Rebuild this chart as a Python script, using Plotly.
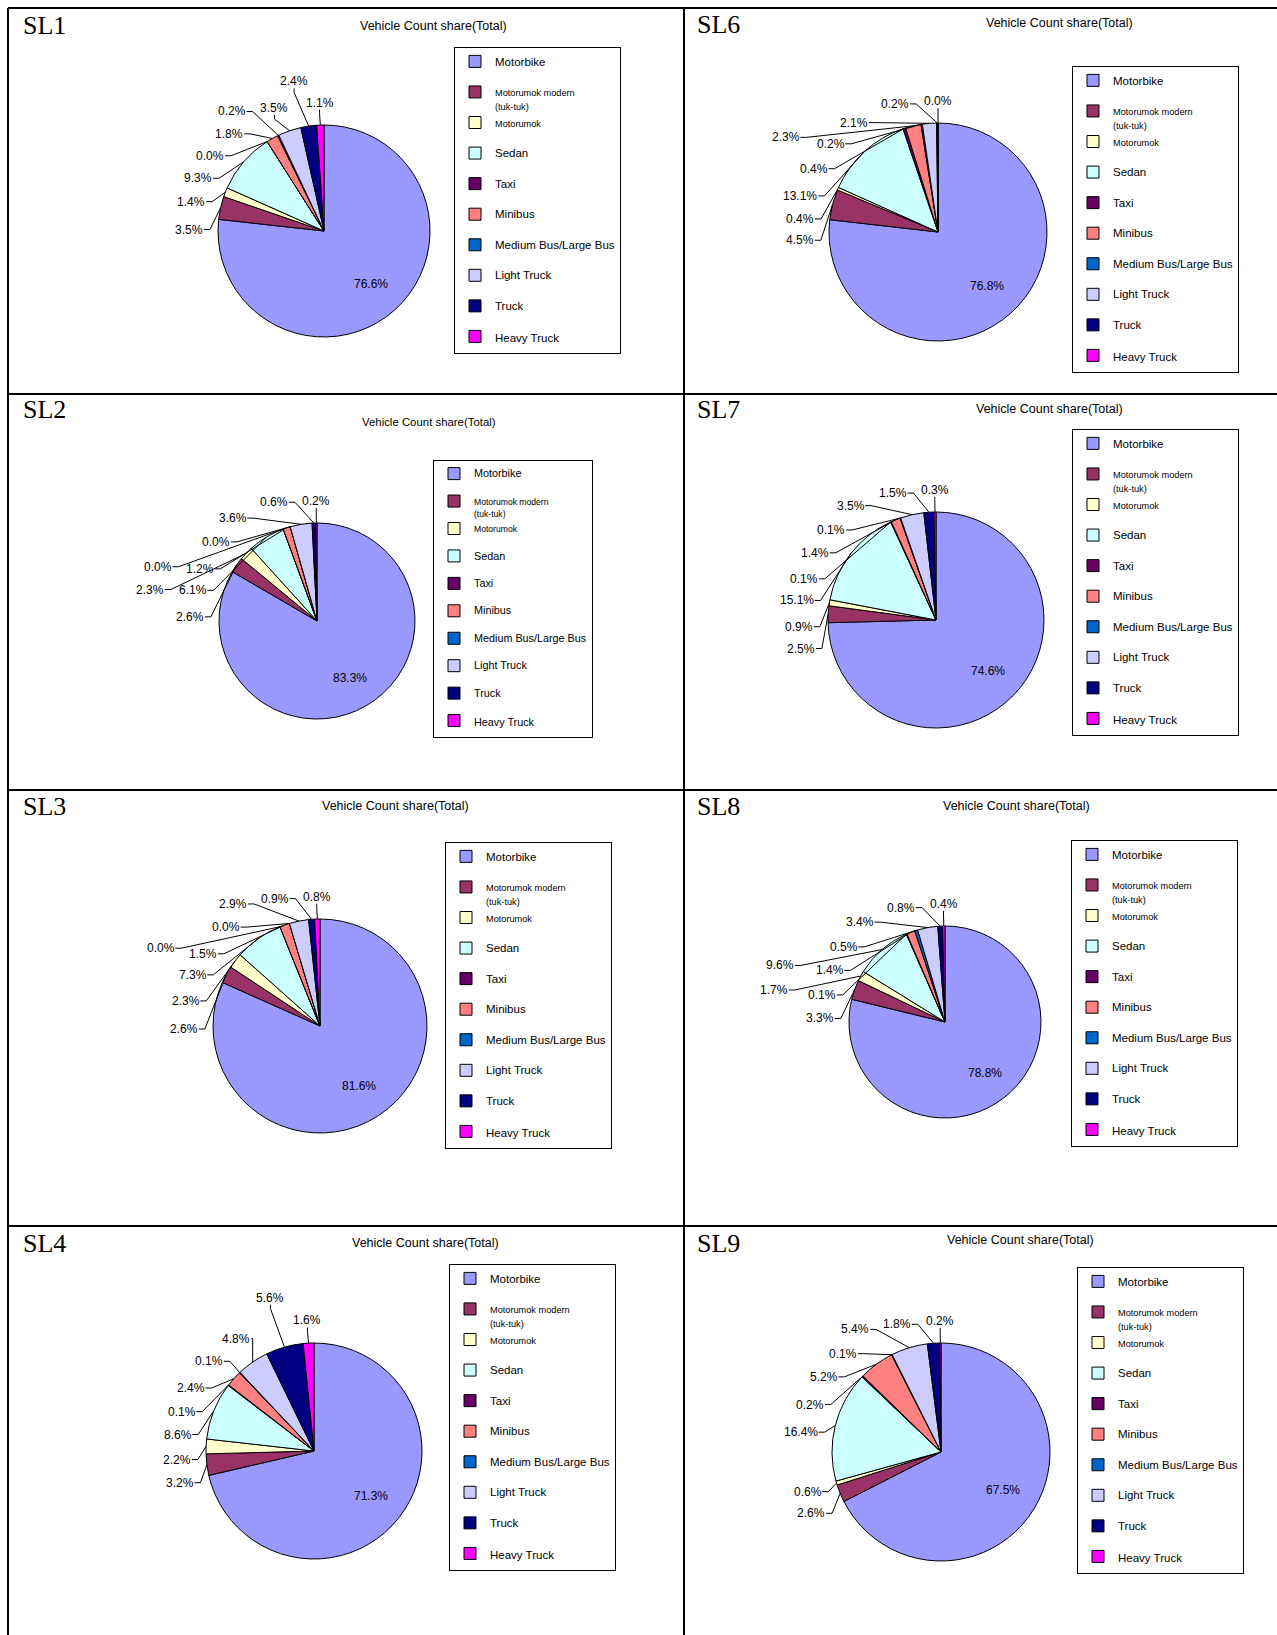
import math
import plotly.graph_objects as go

W, H = 1277, 1635

# ---------------- data ----------------
categories = ["Motorbike", "Motorumok modern (tuk-tuk)", "Motorumok", "Sedan", "Taxi",
              "Minibus", "Medium Bus/Large Bus", "Light Truck", "Truck", "Heavy Truck"]
colors = ["#9999FF", "#993366", "#FFFFCC", "#CCFFFF", "#660066",
          "#FF8080", "#0066CC", "#CCCCFF", "#000080", "#FF00FF"]
small_legend_items = ["Motorumok modern (tuk-tuk)", "Motorumok"]

panel_names = ["SL1", "SL2", "SL3", "SL4", "SL6", "SL7", "SL8", "SL9"]
sl1 = [76.6, 3.5, 1.4, 9.3, 0.0, 1.8, 0.2, 3.5, 2.4, 1.1]
sl2 = [83.3, 2.6, 2.3, 6.1, 0.0, 1.2, 0.0, 3.6, 0.6, 0.2]
sl3 = [81.6, 2.6, 2.3, 7.3, 0.0, 1.5, 0.0, 2.9, 0.9, 0.8]
sl4 = [71.3, 3.2, 2.2, 8.6, 0.1, 2.4, 0.1, 4.8, 5.6, 1.6]
sl6 = [76.8, 4.5, 0.4, 13.1, 0.4, 2.3, 0.2, 2.1, 0.2, 0.0]
sl7 = [74.6, 2.5, 0.9, 15.1, 0.1, 1.4, 0.1, 3.5, 1.5, 0.3]
sl8 = [78.8, 3.3, 1.7, 9.6, 0.1, 1.4, 0.5, 3.4, 0.8, 0.4]
sl9 = [67.5, 2.6, 0.6, 16.4, 0.2, 5.2, 0.1, 5.4, 1.8, 0.2]
panel_values = [sl1, sl2, sl3, sl4, sl6, sl7, sl8, sl9]
chart_title = "Vehicle Count share(Total)"

# ---------------- layout geometry (pixels) ----------------
geom = {
    "SL1": dict(cx=324, cy=231, r=106, lx=454, ly=47,   tx=433,  ty=26,   sx=21,  sy=26,   lbase=10.6, ltext=11.5, tsize=12.5, left=8),
    "SL2": dict(cx=317, cy=621, r=98,  lx=433, ly=460,  tx=429,  ty=422,  sx=21,  sy=410,  lbase=9.4, ltext=10.8, tsize=11.4, left=8),
    "SL3": dict(cx=320, cy=1026, r=107, lx=445, ly=842, tx=395,  ty=806,  sx=21,  sy=806,  lbase=10.6, ltext=11.5, tsize=12.5, left=8),
    "SL4": dict(cx=314, cy=1451, r=108, lx=449, ly=1264, tx=425, ty=1243, sx=21,  sy=1243, lbase=10.6, ltext=11.5, tsize=12.5, left=8),
    "SL6": dict(cx=938, cy=232, r=109, lx=1072, ly=66,  tx=1059, ty=23,   sx=695, sy=25,   lbase=10.6, ltext=11.5, tsize=12.5, left=684),
    "SL7": dict(cx=936, cy=620, r=108, lx=1072, ly=429, tx=1049, ty=409,  sx=695, sy=410,  lbase=10.6, ltext=11.5, tsize=12.5, left=684),
    "SL8": dict(cx=945, cy=1022, r=96, lx=1071, ly=840, tx=1017, ty=806,  sx=695, sy=806,  lbase=10.6, ltext=11.5, tsize=12.5, left=684),
    "SL9": dict(cx=941, cy=1452, r=109, lx=1077, ly=1267, tx=1021, ty=1240, sx=695, sy=1243, lbase=10.6, ltext=11.5, tsize=12.5, left=684),
}
LABEL_FS = 12
FONT = "Liberation Sans"

# label search weights
W_OUT, W_CCW, W_CW = 0.35, 2.0, 2.5
MAX_EXTRA = 100


def px(x):
    return x / W


def py(y):
    return 1 - y / H


def text_width(s, size):
    wmap = {".": 0.278, "%": 0.889}
    return sum(wmap.get(ch, 0.556) for ch in s) * size


def overlap(a, b):
    return not (a[2] <= b[0] or b[2] <= a[0] or a[3] <= b[1] or b[3] <= a[1])


def seg_hits_box(x0, y0, x1, y1, b):
    ddx, ddy = x1 - x0, y1 - y0
    u0, u1 = 0.0, 1.0
    for p, q in ((-ddx, x0 - b[0]), (ddx, b[2] - x0), (-ddy, y0 - b[1]), (ddy, b[3] - y0)):
        if p == 0:
            if q < 0:
                return False
        else:
            t = q / p
            if p < 0:
                u0 = max(u0, t)
            else:
                u1 = min(u1, t)
            if u0 > u1:
                return False
    return True


def segs_cross(a, b):
    (x1, y1, x2, y2), (x3, y3, x4, y4) = a, b

    def orient(ax, ay, bx, by, cx_, cy_):
        return (bx - ax) * (cy_ - ay) - (by - ay) * (cx_ - ax)
    d1 = orient(x3, y3, x4, y4, x1, y1)
    d2 = orient(x3, y3, x4, y4, x2, y2)
    d3 = orient(x1, y1, x2, y2, x3, y3)
    d4 = orient(x1, y1, x2, y2, x4, y4)
    return (d1 * d2 < 0) and (d3 * d4 < 0)


def legend_label(cat, size, last):
    tail = "" if last else "<br> "
    if cat in small_legend_items:
        sm = round(size * 0.8, 1)
        parts = cat.split(" (")
        if len(parts) == 2:
            return (f"<span style='font-size:{sm}px'>{parts[0]}</span><br>"
                    f"<span style='font-size:{sm}px'>({parts[1]}</span>")
        return f"<span style='font-size:{sm}px'>{cat}</span>{tail}"
    return f"<span style='font-size:{size}px'>{cat}</span>{tail}"


def leader_points(lx, ly, w, h, ex, ey):
    if lx + w / 2 + 2 < ex:
        p0 = (lx + w / 2 + 1, ly)
        p1 = (min(lx + w / 2 + 7, ex), ly)
    elif lx - w / 2 - 2 > ex:
        p0 = (lx - w / 2 - 1, ly)
        p1 = (max(lx - w / 2 - 7, ex), ly)
    elif ly < ey:
        p0 = (lx, ly + h / 2)
        p1 = (lx, min(ly + h / 2 + 4, ey))
    else:
        p0 = (lx, ly - h / 2)
        p1 = (lx, max(ly - h / 2 - 4, ey))
    return p0, p1


def candidate(cx, cy, r, th, t2, d_extra, w, h):
    ex, ey = cx + r * math.sin(th), cy - r * math.cos(th)
    ddx, ddy = math.sin(t2), -math.cos(t2)
    d = r + 15 + abs(ddx) * w / 2 + abs(ddy) * h / 2 + d_extra
    lx, ly = cx + d * ddx, cy + d * ddy
    bw, bh = w + 14, 21
    box = (lx - bw / 2, ly - bh / 2, lx + bw / 2, ly + bh / 2)
    tbox = (lx - w / 2 - 1, ly - h / 2, lx + w / 2 + 1, ly + h / 2)
    p0, p1 = leader_points(lx, ly, w, h, ex, ey)
    segs = [(p0[0], p0[1], p1[0], p1[1]), (p1[0], p1[1], ex, ey)]
    return lx, ly, box, tbox, segs


def place_label(cx, cy, r, th, w, h, placed, prev_angle, bounds, strict):
    """Search outward / rotated positions; labels are placed from the last slice
    backwards, so earlier labels are pushed counter-clockwise (Excel-like)."""
    xmin, ymin, xmax = bounds
    best = None
    for shift in range(-54, 31, 3):
        t2 = th + math.radians(shift)
        if prev_angle is not None and t2 > prev_angle - math.radians(3):
            continue
        for extra in range(0, MAX_EXTRA, 2):
            lx, ly, box, tbox, segs = candidate(cx, cy, r, th, t2, extra, w, h)
            if ly - h / 2 < ymin or lx + w / 2 > xmax or lx - w / 2 < xmin:
                break
            ok = True
            for pb, ptb, psegs in placed:
                if overlap(box, pb):
                    ok = False
                    break
                if strict:
                    if any(seg_hits_box(*s, ptb) for s in segs):
                        ok = False
                        break
                    if any(seg_hits_box(*s, tbox) for s in psegs):
                        ok = False
                        break
                    if any(segs_cross(s, q) for s in segs for q in psegs):
                        ok = False
                        break
            if ok:
                cost = W_OUT * extra + (W_CCW * -shift if shift < 0 else W_CW * shift)
                if best is None or cost < best[0]:
                    best = (cost, lx, ly, box, tbox, segs, t2)
                break
    return best


fig = go.Figure()
shapes = []
annotations = []

for k, name in enumerate(panel_names):
    g = geom[name]
    vals = panel_values[k]
    cx, cy, r = g["cx"], g["cy"], g["r"]
    legend_id = "legend" if k == 0 else f"legend{k + 1}"

    fig.add_trace(go.Pie(
        labels=[legend_label(c, g["ltext"], j == len(categories) - 1)
                for j, c in enumerate(categories)],
        values=vals,
        sort=False,
        direction="clockwise",
        rotation=0,
        domain=dict(x=[px(cx - r), px(cx + r)], y=[py(cy + r), py(cy - r)]),
        marker=dict(colors=colors, line=dict(color="black", width=1)),
        textinfo="none",
        hovertemplate=name + ": %{value:.1f}%<extra></extra>",
        legend=legend_id,
        legendgroup=name,
        showlegend=True,
    ))

    fig.update_layout({legend_id: dict(
        x=px(g["lx"]), y=py(g["ly"]), xanchor="left", yanchor="top",
        bgcolor="white", bordercolor="black", borderwidth=1,
        font=dict(family=FONT, size=g["lbase"], color="black"),
        valign="top", tracegroupgap=0, itemclick=False, itemdoubleclick=False,
    )})

    annotations.append(dict(x=px(g["tx"]), y=py(g["ty"]), xref="paper", yref="paper",
                            text=chart_title, showarrow=False, xanchor="center", yanchor="middle",
                            font=dict(family=FONT, size=g["tsize"], color="black")))
    annotations.append(dict(x=px(g["sx"]), y=py(g["sy"]), xref="paper", yref="paper",
                            text=name, showarrow=False, xanchor="left", yanchor="middle",
                            font=dict(family="Liberation Serif", size=26, color="black")))

    # slice mid-angles (clockwise from 12 o'clock)
    total = sum(vals)
    mids = []
    cum = 0.0
    for v in vals:
        mids.append((cum + v / 2) / total * 2 * math.pi)
        cum += v

    # inside label for the dominant slice
    th0 = mids[0]
    annotations.append(dict(x=px(cx + 0.67 * r * math.sin(th0)), y=py(cy - 0.67 * r * math.cos(th0)),
                            xref="paper", yref="paper", text=f"{vals[0]:.1f}%", showarrow=False,
                            xanchor="center", yanchor="middle",
                            font=dict(family=FONT, size=LABEL_FS, color="black")))

    # outside labels with leader lines, placed from the last slice backwards
    bounds = (g["left"] + 30, g["ty"] + 12, g["lx"] - 4)
    loose = (g["left"] + 10, g["ty"] - 10, g["lx"] + 20)
    placed = []
    prev_angle = None
    for i in range(len(vals) - 1, 0, -1):
        v, th = vals[i], mids[i]
        txt = f"{v:.1f}%"
        ex, ey = cx + r * math.sin(th), cy - r * math.cos(th)
        w = text_width(txt, LABEL_FS)
        h = LABEL_FS + 2
        best = place_label(cx, cy, r, th, w, h, placed, prev_angle, bounds, True)
        if best is None:
            best = place_label(cx, cy, r, th, w, h, placed, None, bounds, True)
        if best is None:
            best = place_label(cx, cy, r, th, w, h, placed, prev_angle, bounds, False)
        if best is None:
            best = place_label(cx, cy, r, th, w, h, placed, None, loose, False)
        if best is None:
            lx, ly, box, tbox, segs = candidate(cx, cy, r, th, th, 0, w, h)
            best = (0, lx, ly, box, tbox, segs, th)
        _, lx, ly, box, tbox, segs, t2 = best
        prev_angle = t2
        placed.append((box, tbox, segs))
        annotations.append(dict(x=px(lx), y=py(ly), xref="paper", yref="paper", text=txt,
                                showarrow=False, xanchor="center", yanchor="middle",
                                font=dict(family=FONT, size=LABEL_FS, color="black")))
        path = (f"M {px(segs[0][0])},{py(segs[0][1])} L {px(segs[0][2])},{py(segs[0][3])} "
                f"L {px(ex)},{py(ey)}")
        shapes.append(dict(type="path", path=path, xref="paper", yref="paper",
                           line=dict(color="black", width=1)))

# table grid lines
grid_top, grid_left, grid_mid = 8, 8, 684
row_lines = [394, 790, 1226]
line_style = dict(color="black", width=2)
shapes.append(dict(type="line", xref="paper", yref="paper", x0=px(grid_left), x1=1,
                   y0=py(grid_top), y1=py(grid_top), line=line_style))
for yy in row_lines:
    shapes.append(dict(type="line", xref="paper", yref="paper", x0=px(grid_left), x1=1,
                       y0=py(yy), y1=py(yy), line=line_style))
for xx in [grid_left, grid_mid]:
    shapes.append(dict(type="line", xref="paper", yref="paper", x0=px(xx), x1=px(xx),
                       y0=py(grid_top), y1=0, line=line_style))

fig.update_layout(
    width=W, height=H,
    margin=dict(l=0, r=0, t=0, b=0, pad=0),
    paper_bgcolor="white", plot_bgcolor="white",
    font=dict(family=FONT, color="black"),
    shapes=shapes, annotations=annotations,
)

fig.write_html("out.html")
